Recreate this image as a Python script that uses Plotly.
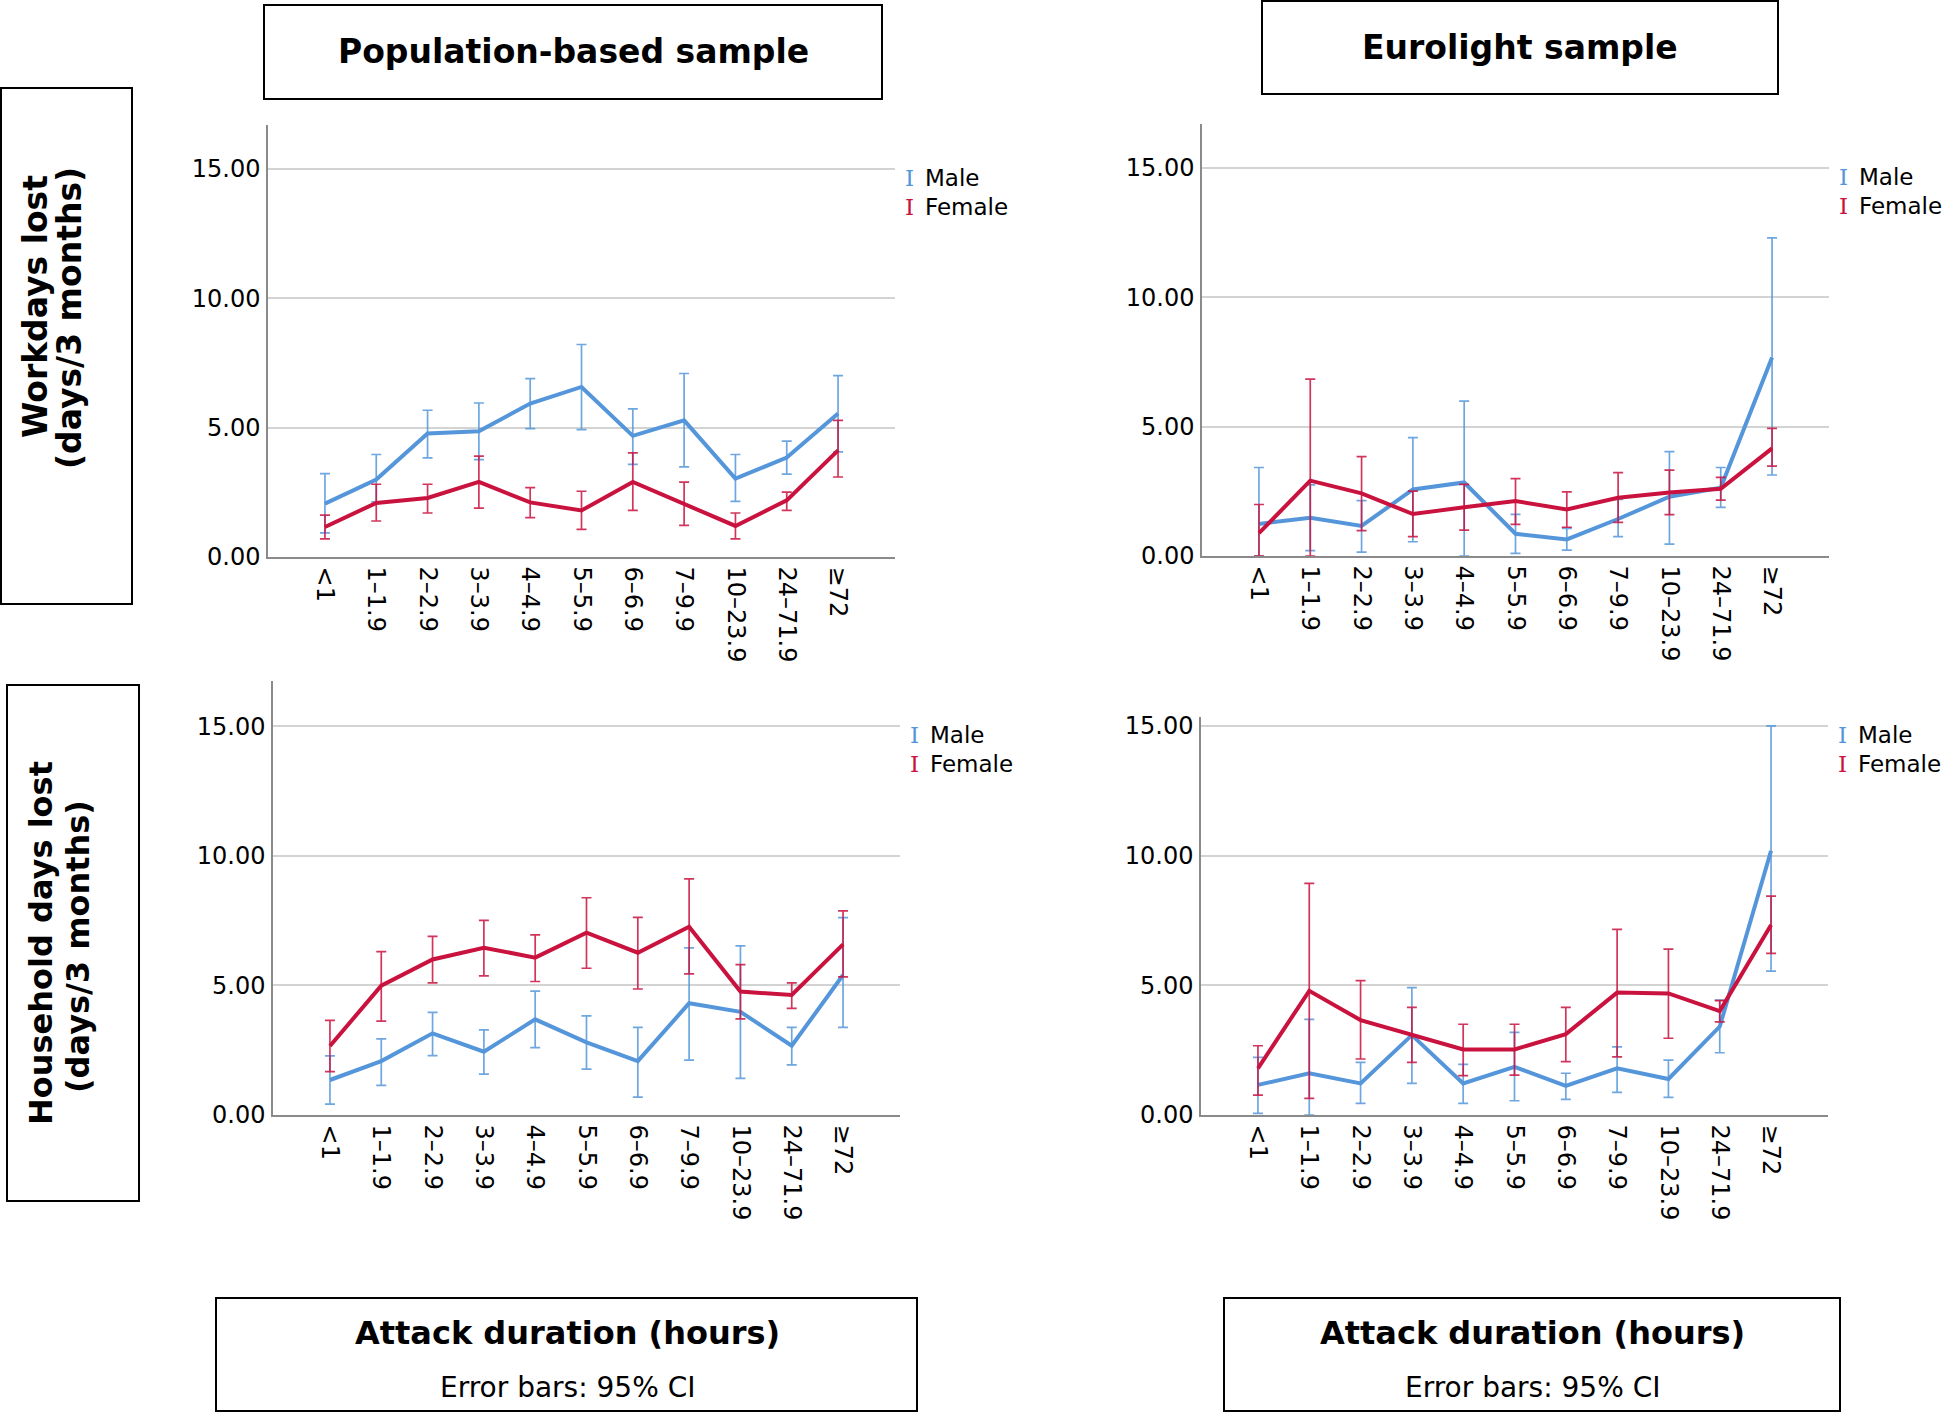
import plotly.graph_objects as go

W, H = 1946, 1413

categories = ["<1", "1–1.9", "2–2.9", "3–3.9", "4–4.9", "5–5.9", "6–6.9",
              "7–9.9", "10–23.9", "24–71.9", "≥72"]
y_ticks = [0, 5, 10, 15]

# Population-based sample, workdays lost
pop_work_male_mean = [2.06, 2.99, 4.77, 4.86, 5.93, 6.57, 4.68, 5.28, 3.03, 3.84, 5.54]
pop_work_male_lo = [0.93, 2.13, 3.83, 3.76, 4.96, 4.92, 3.58, 3.48, 2.15, 3.20, 4.06]
pop_work_male_hi = [3.22, 3.96, 5.67, 5.95, 6.89, 8.21, 5.72, 7.09, 3.96, 4.48, 7.01]
pop_work_female_mean = [1.16, 2.09, 2.28, 2.90, 2.11, 1.80, 2.90, 2.06, 1.20, 2.19, 4.12]
pop_work_female_lo = [0.70, 1.39, 1.70, 1.89, 1.52, 1.07, 1.80, 1.22, 0.70, 1.80, 3.09]
pop_work_female_hi = [1.62, 2.81, 2.81, 3.90, 2.68, 2.54, 4.02, 2.89, 1.70, 2.51, 5.28]

# Eurolight sample, workdays lost
euro_work_male_mean = [1.24, 1.48, 1.16, 2.57, 2.84, 0.86, 0.64, 1.43, 2.29, 2.64, 7.67]
euro_work_male_lo = [0.00, 0.21, 0.15, 0.55, 0.00, 0.10, 0.23, 0.75, 0.46, 1.88, 3.13]
euro_work_male_hi = [3.42, 2.75, 2.14, 4.57, 5.98, 1.61, 1.07, 2.19, 4.03, 3.42, 12.29]
euro_work_female_mean = [0.88, 2.91, 2.42, 1.62, 1.88, 2.12, 1.80, 2.25, 2.45, 2.60, 4.16]
euro_work_female_lo = [0.00, 0.00, 0.98, 0.75, 1.00, 1.22, 1.11, 1.30, 1.60, 2.16, 3.47]
euro_work_female_hi = [1.99, 6.83, 3.84, 2.51, 2.77, 2.99, 2.48, 3.22, 3.32, 3.04, 4.93]

# Population-based sample, household days lost
pop_house_male_mean = [1.35, 2.08, 3.15, 2.44, 3.69, 2.80, 2.08, 4.31, 3.98, 2.67, 5.40]
pop_house_male_lo = [0.42, 1.14, 2.29, 1.58, 2.60, 1.77, 0.69, 2.12, 1.41, 1.93, 3.38]
pop_house_male_hi = [2.28, 2.94, 3.96, 3.28, 4.78, 3.82, 3.38, 6.45, 6.52, 3.38, 7.61]
pop_house_female_mean = [2.66, 4.99, 6.00, 6.45, 6.07, 7.03, 6.26, 7.26, 4.76, 4.63, 6.58]
pop_house_female_lo = [1.67, 3.62, 5.10, 5.37, 5.15, 5.66, 4.86, 5.44, 3.71, 4.11, 5.33]
pop_house_female_hi = [3.65, 6.30, 6.89, 7.51, 6.95, 8.38, 7.62, 9.11, 5.80, 5.10, 7.87]

# Eurolight sample, household days lost
euro_house_male_mean = [1.16, 1.61, 1.22, 3.08, 1.22, 1.86, 1.12, 1.80, 1.39, 3.41, 10.19]
euro_house_male_lo = [0.06, 0.00, 0.45, 1.22, 0.45, 0.55, 0.60, 0.87, 0.68, 2.40, 5.55]
euro_house_male_hi = [2.22, 3.69, 2.03, 4.91, 1.95, 3.19, 1.61, 2.63, 2.12, 4.43, 15.01]
euro_house_female_mean = [1.80, 4.79, 3.66, 3.08, 2.53, 2.53, 3.12, 4.72, 4.69, 4.01, 7.33]
euro_house_female_lo = [0.77, 0.64, 2.16, 2.03, 1.52, 1.54, 2.06, 2.24, 2.96, 3.59, 6.23]
euro_house_female_hi = [2.67, 8.93, 5.18, 4.15, 3.50, 3.50, 4.15, 7.16, 6.40, 4.41, 8.44]

series_names = ["Male", "Female"]
col_titles = ["Population-based sample", "Eurolight sample"]
row_titles = [["Workdays lost", "(days/3 months)"], ["Household days lost", "(days/3 months)"]]
footer_title = "Attack duration (hours)"
footer_note = "Error bars: 95% CI"

BLUE = "#5596db"
RED = "#c9123e"
BLUE_ERR = "rgba(85,150,219,0.85)"
RED_ERR = "rgba(201,18,62,0.85)"
FONT = "DejaVu Sans"


def fx(px):
    return px / W


def fy(py):
    return 1 - py / H


panels = [
    dict(x0=268, x1=895, ytop=125, yzero=557, ymax=16.69,
         male=(pop_work_male_mean, pop_work_male_lo, pop_work_male_hi),
         female=(pop_work_female_mean, pop_work_female_lo, pop_work_female_hi)),
    dict(x0=1202, x1=1829, ytop=124, yzero=556, ymax=16.69,
         male=(euro_work_male_mean, euro_work_male_lo, euro_work_male_hi),
         female=(euro_work_female_mean, euro_work_female_lo, euro_work_female_hi)),
    dict(x0=273, x1=900, ytop=681, yzero=1115, ymax=16.74,
         male=(pop_house_male_mean, pop_house_male_lo, pop_house_male_hi),
         female=(pop_house_female_mean, pop_house_female_lo, pop_house_female_hi)),
    dict(x0=1201, x1=1828, ytop=717, yzero=1115, ymax=15.35,
         male=(euro_house_male_mean, euro_house_male_lo, euro_house_male_hi),
         female=(euro_house_female_mean, euro_house_female_lo, euro_house_female_hi)),
]

fig = go.Figure()
layout = {}
annotations = []
shapes = []

for i, p in enumerate(panels, start=1):
    xa = "xaxis" if i == 1 else f"xaxis{i}"
    ya = "yaxis" if i == 1 else f"yaxis{i}"
    xr = "x" if i == 1 else f"x{i}"
    yr = "y" if i == 1 else f"y{i}"
    for name, data, col, ecol in [("Male", p["male"], BLUE, BLUE_ERR),
                                  ("Female", p["female"], RED, RED_ERR)]:
        mean, lo, hi = data
        fig.add_trace(go.Scatter(
            x=categories, y=mean, mode="lines", name=name,
            line=dict(color=col, width=4),
            error_y=dict(type="data", symmetric=False,
                         array=[h - m for h, m in zip(hi, mean)],
                         arrayminus=[m - l for m, l in zip(mean, lo)],
                         color=ecol, thickness=1.7, width=5),
            xaxis=xr, yaxis=yr, showlegend=False, cliponaxis=False,
            hoverinfo="skip",
        ))
    layout[xa] = dict(
        domain=[fx(p["x0"]), fx(p["x1"])], anchor=yr, automargin=False,
        type="category", categoryorder="array", categoryarray=categories,
        range=[-1.11, 11.11], showgrid=False, zeroline=False,
        showline=True, linecolor="#8a8a8a", linewidth=1.5,
        ticks="", tickangle=90, ticklabelstandoff=3,
        tickfont=dict(family=FONT, size=24, color="black"),
    )
    layout[ya] = dict(
        domain=[fy(p["yzero"]), fy(p["ytop"])], anchor=xr, automargin=False,
        range=[0, p["ymax"]], tickvals=y_ticks, tickformat=".2f",
        showgrid=True, gridcolor="#d3d3d3", gridwidth=1.5, zeroline=False,
        showline=True, linecolor="#8a8a8a", linewidth=1.5,
        ticks="", ticklabelstandoff=1,
        tickfont=dict(family=FONT, size=24, color="black"),
    )
    # legend (per panel)
    px_per_unit = (p["yzero"] - p["ytop"]) / p["ymax"]
    y15 = p["yzero"] - 15 * px_per_unit
    for k, (name, col) in enumerate([("Male", BLUE), ("Female", RED)]):
        yy = y15 + 9 + k * 29
        annotations.append(dict(
            x=fx(p["x1"] + 14), y=fy(yy), xref="paper", yref="paper",
            text="I", showarrow=False, xanchor="center", yanchor="middle",
            font=dict(family="DejaVu Serif", size=23, color=col)))
        annotations.append(dict(
            x=fx(p["x1"] + 28), y=fy(yy), xref="paper", yref="paper",
            text=name, showarrow=False, xanchor="left", yanchor="middle",
            font=dict(family=FONT, size=23, color="black")))

# Boxes
boxes = [
    (264, 5, 882, 99), (1262, 1, 1778, 94),
    (1, 88, 132, 604), (7, 685, 139, 1201),
    (216, 1298, 917, 1411), (1224, 1298, 1840, 1411),
]
for (x0, y0, x1, y1) in boxes:
    shapes.append(dict(type="rect", xref="paper", yref="paper",
                       x0=fx(x0), x1=fx(x1), y0=fy(y1), y1=fy(y0),
                       line=dict(color="black", width=2), fillcolor="white",
                       layer="below"))

annotations.append(dict(x=fx(573), y=fy(52), xref="paper", yref="paper",
                        text=f"<b>{col_titles[0]}</b>", showarrow=False,
                        xanchor="center", yanchor="middle",
                        font=dict(family=FONT, size=33, color="black")))
annotations.append(dict(x=fx(1520), y=fy(48), xref="paper", yref="paper",
                        text=f"<b>{col_titles[1]}</b>", showarrow=False,
                        xanchor="center", yanchor="middle",
                        font=dict(family=FONT, size=33, color="black")))

# Row titles (rotated)
row_pos = [[(35, 307), (70, 318)], [(41, 943), (78, 947)]]
row_sizes = [33, 32]
for r in range(2):
    for li in range(2):
        xx, yy = row_pos[r][li]
        annotations.append(dict(x=fx(xx), y=fy(yy), xref="paper", yref="paper",
                                text=f"<b>{row_titles[r][li]}</b>", showarrow=False,
                                textangle=-90, xanchor="center", yanchor="middle",
                                font=dict(family=FONT, size=row_sizes[r], color="black")))

# Footer boxes
for cx in (567, 1532):
    annotations.append(dict(x=fx(cx), y=fy(1333), xref="paper", yref="paper",
                            text=f"<b>{footer_title}</b>", showarrow=False,
                            xanchor="center", yanchor="middle",
                            font=dict(family=FONT, size=32, color="black")))
    annotations.append(dict(x=fx(cx), y=fy(1387), xref="paper", yref="paper",
                            text=footer_note, showarrow=False,
                            xanchor="center", yanchor="middle",
                            font=dict(family=FONT, size=28, color="black")))

fig.update_layout(
    width=W, height=H, autosize=False,
    margin=dict(l=0, r=0, t=0, b=0, pad=0, autoexpand=False),
    paper_bgcolor="white", plot_bgcolor="white",
    showlegend=False, hovermode=False,
    annotations=annotations, shapes=shapes,
    **layout,
)

fig.write_html(
    "out.html",
    config={"displayModeBar": False, "responsive": False},
    post_script="document.body.style.margin='0';document.body.style.overflow='hidden';",
)
